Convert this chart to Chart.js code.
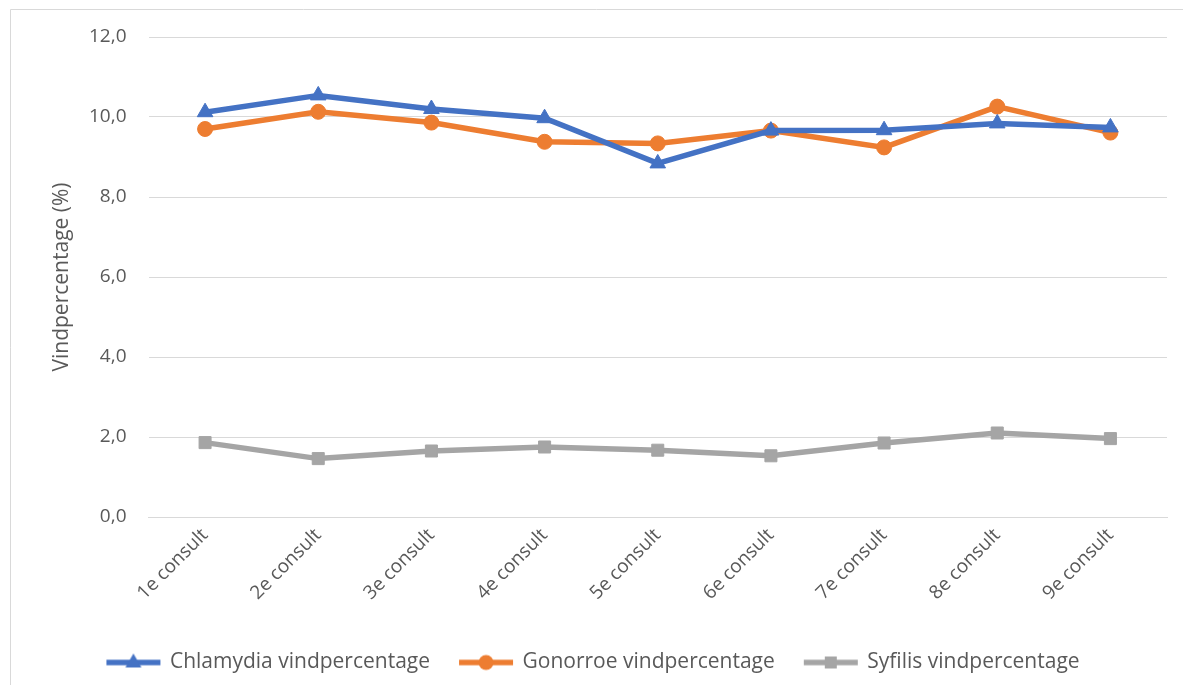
<!DOCTYPE html>
<html>
<head>
<meta charset="utf-8">
<script src="https://cdn.jsdelivr.net/npm/chart.js@4.4.1/dist/chart.umd.min.js"></script>
<style>
  html, body { margin: 0; padding: 0; background: #fff; }
  #wrap { width: 1183px; height: 685px; position: relative; }
</style>
</head>
<body>
<div id="wrap"><canvas id="c" width="1183" height="685"></canvas></div>
<script>
// categories and values
const categories = ['1e consult', '2e consult', '3e consult', '4e consult', '5e consult',
                    '6e consult', '7e consult', '8e consult', '9e consult'];
const chlamydia = [10.12, 10.54, 10.2, 9.97, 8.84, 9.66, 9.67, 9.84, 9.74];
const gonorroe  = [9.70, 10.13, 9.86, 9.38, 9.34, 9.66, 9.24, 10.26, 9.61];
const syfilis   = [1.86, 1.46, 1.65, 1.75, 1.67, 1.53, 1.85, 2.10, 1.96];
const yTicks = [0, 2, 4, 6, 8, 10, 12];

const FONT = '"Open Sans", "DejaVu Sans", sans-serif';
const TEXT = '#595959';

// legend swatch: short line with the marker on it
function swatch(color, shape) {
  const cv = document.createElement('canvas');
  cv.width = 58; cv.height = 20;
  const g = cv.getContext('2d');
  g.strokeStyle = color; g.fillStyle = color; g.lineWidth = 5.5;
  g.beginPath(); g.moveTo(2, 10); g.lineTo(56, 10); g.stroke();
  g.beginPath();
  if (shape === 'triangle') { g.moveTo(29, 1); g.lineTo(37, 15); g.lineTo(21, 15); g.closePath(); }
  else if (shape === 'circle') { g.arc(29, 10, 7.5, 0, Math.PI * 2); }
  else { g.rect(23, 4, 12, 12); }
  g.fill();
  return cv;
}

const frame = {
  id: 'frame',
  beforeDraw(chart) {
    const ctx = chart.ctx;
    ctx.save();
    ctx.strokeStyle = '#D9D9D9';
    ctx.lineWidth = 1;
    ctx.beginPath();
    ctx.moveTo(10.5, 700); ctx.lineTo(10.5, 9.5); ctx.lineTo(1183, 9.5);
    ctx.stroke();
    ctx.restore();
  }
};

function ds(label, data, color, shape, radius) {
  return {
    label, data,
    borderColor: color, backgroundColor: color,
    borderWidth: 5.5,
    pointStyle: shape, pointRadius: radius, pointHoverRadius: radius,
    pointBackgroundColor: color, pointBorderColor: color, pointBorderWidth: 1,
    tension: 0
  };
}

new Chart(document.getElementById('c'), {
  type: 'line',
  data: {
    labels: categories,
    datasets: [
      ds('Chlamydia vindpercentage', chlamydia, '#4472C4', 'triangle', 9),
      ds('Gonorroe vindpercentage', gonorroe, '#ED7D31', 'circle', 7.5),
      ds('Syfilis vindpercentage', syfilis, '#A5A5A5', 'rect', 8.5)
    ]
  },
  options: {
    responsive: false,
    animation: false,
    layout: { padding: { left: 20, right: 16, top: 37, bottom: 2 } },
    plugins: {
      tooltip: { enabled: false },
      legend: {
        position: 'bottom',
        labels: {
          usePointStyle: true,
          pointStyleWidth: 52,
          boxHeight: 20,
          color: TEXT,
          font: { family: FONT, size: 21 },
          padding: 30,
          generateLabels(chart) {
            const shapes = ['triangle', 'circle', 'rect'];
            return chart.data.datasets.map((d, i) => ({
              text: d.label,
              fontColor: TEXT,
              pointStyle: swatch(d.borderColor, shapes[i]),
              datasetIndex: i,
              lineWidth: 0,
              strokeStyle: 'transparent',
              fillStyle: 'transparent'
            }));
          }
        }
      }
    },
    scales: {
      x: {
        offset: true,
        grid: { display: false, drawTicks: false },
        border: { color: '#D9D9D9', width: 1 },
        ticks: {
          color: TEXT,
          font: { family: FONT, size: 19 },
          minRotation: 45, maxRotation: 45,
          padding: 7
        },
        afterFit(s) { s.height = 105; }
      },
      y: {
        min: 0, max: 12,
        afterBuildTicks(s) { s.ticks = yTicks.map(v => ({ value: v })); },
        grid: { color: '#D9D9D9', drawTicks: false },
        border: { display: false },
        ticks: {
          color: TEXT,
          font: { family: FONT, size: 19 },
          padding: 22,
          callback: v => v.toFixed(1).replace('.', ',')
        },
        title: {
          display: true,
          text: 'Vindpercentage (%)',
          color: TEXT,
          font: { family: FONT, size: 21 },
          padding: { top: 29, bottom: 0 }
        },
        afterFit(s) { s.width = 128.5; }
      }
    }
  },
  plugins: [frame]
});
</script>
</body>
</html>
